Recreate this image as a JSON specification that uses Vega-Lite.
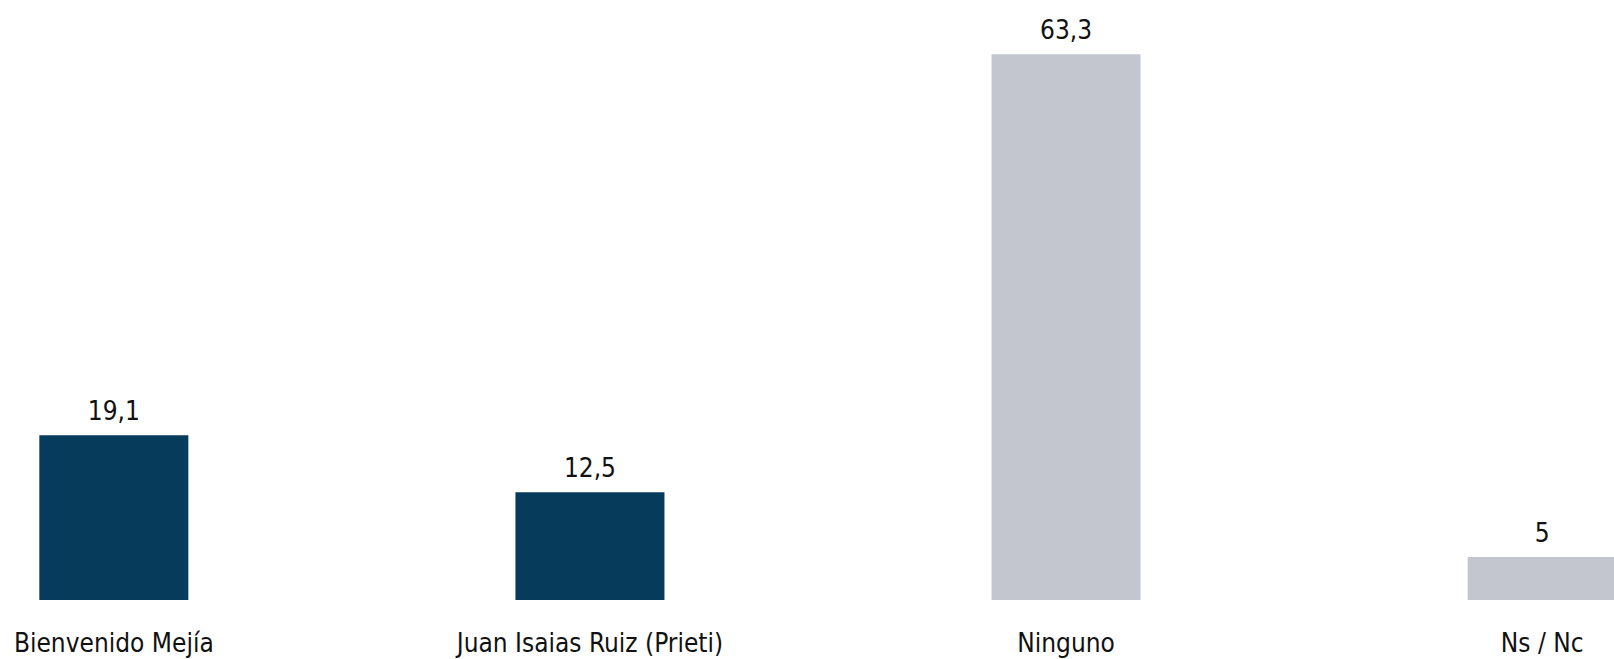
{
  "$schema": "https://vega.github.io/schema/vega-lite/v6.json",
  "width": 1656,
  "height": 600,
  "autosize": {"type": "none"},
  "padding": {"left": 0, "top": 0, "right": 0, "bottom": 59},
  "background": "white",
  "config": {"view": {"stroke": null}},
  "data": {
    "values": [
      {"opcion": "Bienvenido Mejía", "pct": 19.1, "etiqueta": "19,1", "grupo": "candidato"},
      {"opcion": "Juan Isaias Ruiz (Prieti)", "pct": 12.5, "etiqueta": "12,5", "grupo": "candidato"},
      {"opcion": "Ninguno", "pct": 63.3, "etiqueta": "63,3", "grupo": "otro"},
      {"opcion": "Ns / Nc", "pct": 5, "etiqueta": "5", "grupo": "otro"}
    ]
  },
  "encoding": {
    "x": {
      "field": "opcion",
      "type": "nominal",
      "sort": null,
      "scale": {"paddingInner": 0.687, "paddingOuter": 0.0826},
      "axis": {
        "title": null,
        "domain": false,
        "ticks": false,
        "grid": false,
        "labelAngle": 0,
        "labelBaseline": "alphabetic",
        "labelPadding": 51,
        "labelFont": "DejaVu Sans Condensed, sans-serif",
        "labelFontSize": 26,
        "labelColor": "#111111",
        "labelLimit": 0
      }
    },
    "y": {
      "field": "pct",
      "type": "quantitative",
      "scale": {"domain": [0, 69.6], "nice": false},
      "axis": null
    }
  },
  "layer": [
    {
      "mark": {"type": "bar"},
      "encoding": {
        "color": {
          "field": "grupo",
          "type": "nominal",
          "scale": {"domain": ["candidato", "otro"], "range": ["#073b5b", "#c4c6cf"]},
          "legend": null
        }
      }
    },
    {
      "mark": {
        "type": "text",
        "baseline": "alphabetic",
        "dy": -15,
        "font": "DejaVu Sans Condensed, sans-serif",
        "fontSize": 26,
        "color": "#111111"
      },
      "encoding": {"text": {"field": "etiqueta"}}
    }
  ]
}
